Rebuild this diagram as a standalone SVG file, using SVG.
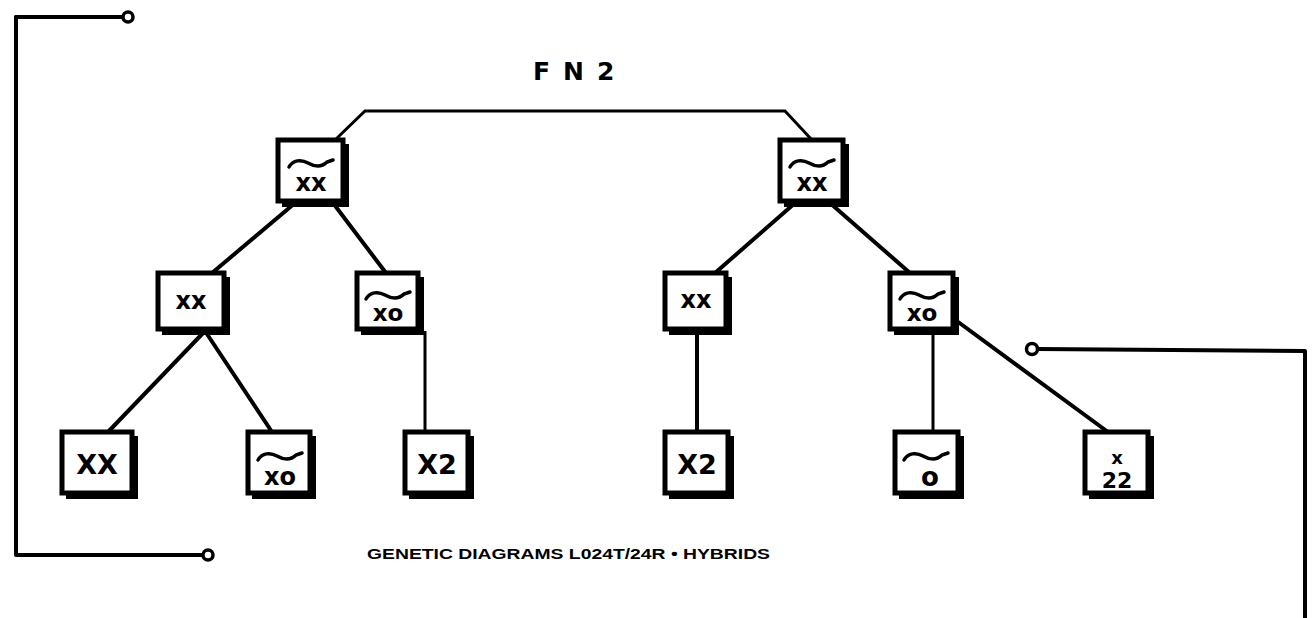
<svg xmlns="http://www.w3.org/2000/svg" width="1312" height="618" viewBox="0 0 1312 618">
<style>
.shadow{fill:#000}
.box{fill:#fff;stroke:#000;stroke-width:5}
.lbl{font-family:"DejaVu Sans",sans-serif;font-weight:bold;fill:#000;text-anchor:middle}
.wire{fill:none;stroke:#000;stroke-width:4;stroke-linecap:round;stroke-linejoin:round}
.thin{fill:none;stroke:#000;stroke-width:3}
.ring{fill:#fff;stroke:#000;stroke-width:3.5}
.wave{fill:none;stroke:#000;stroke-width:3.5;stroke-linecap:round}
.cap{font-family:"Liberation Sans",Arial,sans-serif;font-weight:bold;fill:#000}
</style>
<defs>
  <path id="tilde" class="wave" d="M-22,4 C-18,-3 -10,-4 -3,0 S11,4 16,-1 L22,-3"/>
</defs>
<rect width="1312" height="618" fill="#fff"/>
<g id="connectors">
  <path class="thin" d="M335,140 L365,111 L785,111 L812,140"/>
  <path class="wire" d="M295,203 L212,273"/>
  <path class="wire" d="M333,203 L386,273"/>
  <path class="wire" d="M795,203 L715,273"/>
  <path class="wire" d="M830,203 L910,273"/>
  <path class="wire" d="M205,331 L108,432"/>
  <path class="wire" d="M205,331 L272,432"/>
  <path class="thin" d="M425,331 L425,432"/>
  <path class="wire" d="M697,331 L697,432"/>
  <path class="thin" d="M933,331 L933,432"/>
  <path class="wire" d="M950,316 L1108,432"/>
  <path class="wire" d="M16,17 L124,17"/>
  <path class="wire" d="M16,17 L16,555 L203,555"/>
  <path class="wire" d="M1037,349 L1305,351 L1305,618"/>
  <circle class="ring" cx="128" cy="17" r="5"/>
  <circle class="ring" cx="208" cy="555" r="5"/>
  <circle class="ring" cx="1032" cy="349" r="5.5"/>
</g>
<g id="label-fn2"><text x="533" y="80" font-size="25" style="font-family:'DejaVu Sans',sans-serif;font-weight:bold;letter-spacing:13px">FN2</text></g>
<g id="T1"><rect class="shadow" x="282" y="144" width="67" height="63"/><rect class="box" x="278" y="140" width="65" height="61"/><use href="#tilde" x="311" y="163"/><text class="lbl" x="311" y="191" font-size="24">xx</text></g>
<g id="T2"><rect class="shadow" x="784" y="144" width="65" height="63"/><rect class="box" x="780" y="140" width="63" height="61"/><use href="#tilde" x="812" y="163"/><text class="lbl" x="812" y="191" font-size="24">xx</text></g>
<g id="M1"><rect class="shadow" x="162" y="277" width="68" height="58"/><rect class="box" x="158" y="273" width="66" height="56"/><text class="lbl" x="191" y="309" font-size="24">xx</text></g>
<g id="M2"><rect class="shadow" x="361" y="277" width="63" height="58"/><rect class="box" x="357" y="273" width="61" height="56"/><use href="#tilde" x="388" y="295"/><text class="lbl" x="388" y="321" font-size="23">xo</text></g>
<g id="M3"><rect class="shadow" x="669" y="277" width="63" height="58"/><rect class="box" x="665" y="273" width="61" height="56"/><text class="lbl" x="696" y="308" font-size="24">xx</text></g>
<g id="M4"><rect class="shadow" x="894" y="277" width="65" height="58"/><rect class="box" x="890" y="273" width="63" height="56"/><use href="#tilde" x="922" y="295"/><text class="lbl" x="922" y="321" font-size="23">xo</text></g>
<g id="B1"><rect class="shadow" x="66" y="436" width="72" height="63"/><rect class="box" x="62" y="432" width="70" height="61"/><text class="lbl" x="97" y="474" font-size="27">XX</text></g>
<g id="B2"><rect class="shadow" x="252" y="436" width="64" height="63"/><rect class="box" x="248" y="432" width="62" height="61"/><use href="#tilde" x="280" y="456"/><text class="lbl" x="280" y="485" font-size="24">xo</text></g>
<g id="B3"><rect class="shadow" x="409" y="436" width="65" height="63"/><rect class="box" x="405" y="432" width="63" height="61"/><text class="lbl" x="437" y="474" font-size="27">X2</text></g>
<g id="B4"><rect class="shadow" x="669" y="436" width="65" height="63"/><rect class="box" x="665" y="432" width="63" height="61"/><text class="lbl" x="697" y="474" font-size="27">X2</text></g>
<g id="B5"><rect class="shadow" x="899" y="436" width="65" height="63"/><rect class="box" x="895" y="432" width="63" height="61"/><use href="#tilde" x="926" y="456"/><text class="lbl" x="930" y="486" font-size="26">o</text></g>
<g id="B6"><rect class="shadow" x="1089" y="436" width="65" height="63"/><rect class="box" x="1085" y="432" width="63" height="61"/><text class="lbl"><tspan x="1117" y="464" font-size="18">x</tspan><tspan x="1117" y="488" font-size="22">22</tspan></text></g>
<g id="caption"><text class="cap" x="367" y="559" font-size="14" textLength="403" lengthAdjust="spacingAndGlyphs">GENETIC DIAGRAMS L024T/24R • HYBRIDS</text></g>
</svg>
